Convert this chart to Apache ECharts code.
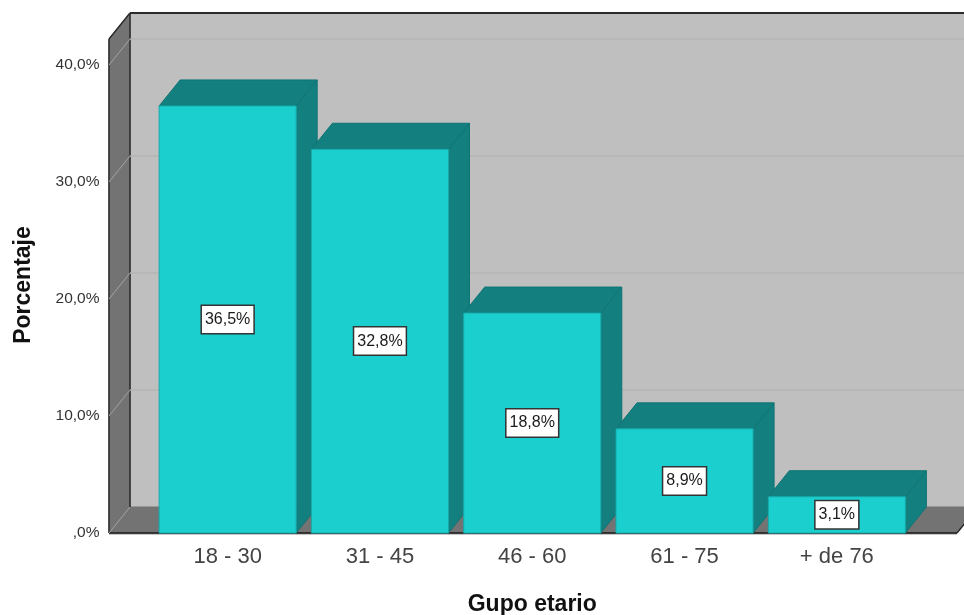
<!DOCTYPE html>
<html>
<head>
<meta charset="utf-8">
<style>html,body{margin:0;padding:0;background:#fff}#chart{width:964px;height:615px}</style>
<script src="https://cdn.jsdelivr.net/npm/echarts@6/dist/echarts.min.js"></script>
</head>
<body>
<div id="chart"></div>
<script>
// Age-group distribution, drawn as pseudo-3D columns
const categories = ['18 - 30', '31 - 45', '46 - 60', '61 - 75', '+ de 76'];
const percentages = [36.5, 32.8, 18.8, 8.9, 3.1];
const yTicks = [0, 10, 20, 30, 40];

// Depth of the extruded look, in pixels
const DX = 21, DY = -26;
const WALL_LEFT = 109, WALL_RIGHT = 957, WALL_TOP = 39;

const FRONT = '#1ccfcf', SHADE = '#137f7f', EDGE = '#0f7474';
const BACK = '#bfbfbf', DARKWALL = '#737373', GRID = '#b4b4b4', FRAME = '#2b2b2b';

const fmt = v => v.toFixed(1).replace('.', ',') + '%';
const poly = (points, fill, stroke) => ({
  type: 'polygon', shape: { points },
  style: { fill, stroke: stroke || fill, lineWidth: 1 }
});
const line = (x1, y1, x2, y2, stroke, lineWidth) => ({
  type: 'line', shape: { x1, y1, x2, y2 }, style: { stroke, lineWidth }
});

function renderWalls(params, api) {
  const y0 = api.coord([0, 0])[1];
  const L = WALL_LEFT, R = WALL_RIGHT, T = WALL_TOP;
  return {
    type: 'group',
    children: [
      poly([[L + DX, T + DY], [R + DX, T + DY], [R + DX, y0 + DY], [L + DX, y0 + DY]], BACK),
      poly([[L, T], [L + DX, T + DY], [L + DX, y0 + DY], [L, y0]], DARKWALL),
      poly([[L, y0], [L + DX, y0 + DY], [R + DX, y0 + DY], [R, y0]], DARKWALL),
      line(L, T, L, y0, FRAME, 1.5),
      line(L + DX, T + DY, L + DX, y0 + DY, FRAME, 1.5),
      line(L, T, L + DX, T + DY, FRAME, 1.5),
      line(L + DX, T + DY, R + DX, T + DY, FRAME, 2),
      line(L, y0 + 1, R, y0 + 1, '#8f8f8f', 1),
      line(L, y0, R, y0, '#1a1a1a', 1.5),
      line(R, y0, R + DX, y0 + DY, FRAME, 1.5)
    ]
  };
}

function renderGrid(params, api) {
  const y = api.coord([0, api.value(1)])[1];
  const children = [line(WALL_LEFT, y, WALL_LEFT + DX, y + DY, '#a3a3a3', 1)];
  if (api.value(1) !== 0) {
    children.push(line(WALL_LEFT + DX, y + DY, WALL_RIGHT + DX, y + DY, GRID, 1.5));
  }
  return { type: 'group', children };
}

function renderColumn(params, api) {
  const top = api.coord([api.value(0), api.value(1)]);
  const base = api.coord([api.value(0), 0]);
  const w = api.size([1, 0])[0] * 0.9;
  const l = top[0] - w / 2, r = top[0] + w / 2, t = top[1], b = base[1];
  return {
    type: 'group',
    children: [
      poly([[r, t], [r + DX, t + DY], [r + DX, b + DY], [r, b]], SHADE, EDGE),
      poly([[l, t], [l + DX, t + DY], [r + DX, t + DY], [r, t]], SHADE, EDGE),
      poly([[l, t], [r, t], [r, b], [l, b]], FRONT, '#17a9a9'),
      {
        type: 'text',
        x: top[0], y: (t + b) / 2,
        style: {
          text: fmt(api.value(1)),
          font: '16px "Liberation Sans", Arial, sans-serif',
          fill: '#1a1a1a',
          align: 'center', verticalAlign: 'middle',
          backgroundColor: '#fff',
          borderColor: '#333', borderWidth: 1.5,
          padding: [6, 3, 5, 3]
        }
      }
    ]
  };
}

const chart = echarts.init(document.getElementById('chart'), null, { renderer: 'canvas' });
chart.setOption({
  animation: false,
  backgroundColor: '#fff',
  grid: { left: 151.5, top: 65, width: 761.5, height: 468, outerBoundsMode: 'none' },
  xAxis: {
    type: 'category',
    data: categories,
    name: 'Gupo etario',
    nameLocation: 'middle',
    nameGap: 60,
    nameTextStyle: { fontFamily: 'Liberation Sans', fontWeight: 'bold', fontSize: 23, color: '#111' },
    axisLine: { show: false },
    axisTick: { show: false },
    axisLabel: { fontFamily: 'Liberation Sans', fontSize: 22, color: '#444', margin: 13 }
  },
  yAxis: {
    type: 'value',
    min: 0, max: 40, interval: 10,
    name: 'Porcentaje',
    nameLocation: 'middle',
    nameGap: 116,
    nameTextStyle: { fontFamily: 'Liberation Sans', fontWeight: 'bold', fontSize: 23, color: '#111', padding: [0, 0, 0, 28] },
    axisLine: { show: false },
    axisTick: { show: false },
    splitLine: { show: false },
    axisLabel: {
      fontFamily: 'Liberation Sans', fontSize: 15.5, color: '#333', margin: 52,
      padding: [2, 0, 0, 0],
      formatter: v => (v === 0 ? ',0%' : fmt(v))
    }
  },
  series: [
    { type: 'custom', silent: true, z: 1, clip: false, renderItem: renderWalls, data: [[0, 0]] },
    { type: 'custom', silent: true, z: 2, clip: false, renderItem: renderGrid, data: yTicks.map(t => [0, t]) },
    { type: 'custom', silent: true, z: 3, clip: false, renderItem: renderColumn, data: percentages.map((v, i) => [i, v]) }
  ]
});
</script>
</body>
</html>
